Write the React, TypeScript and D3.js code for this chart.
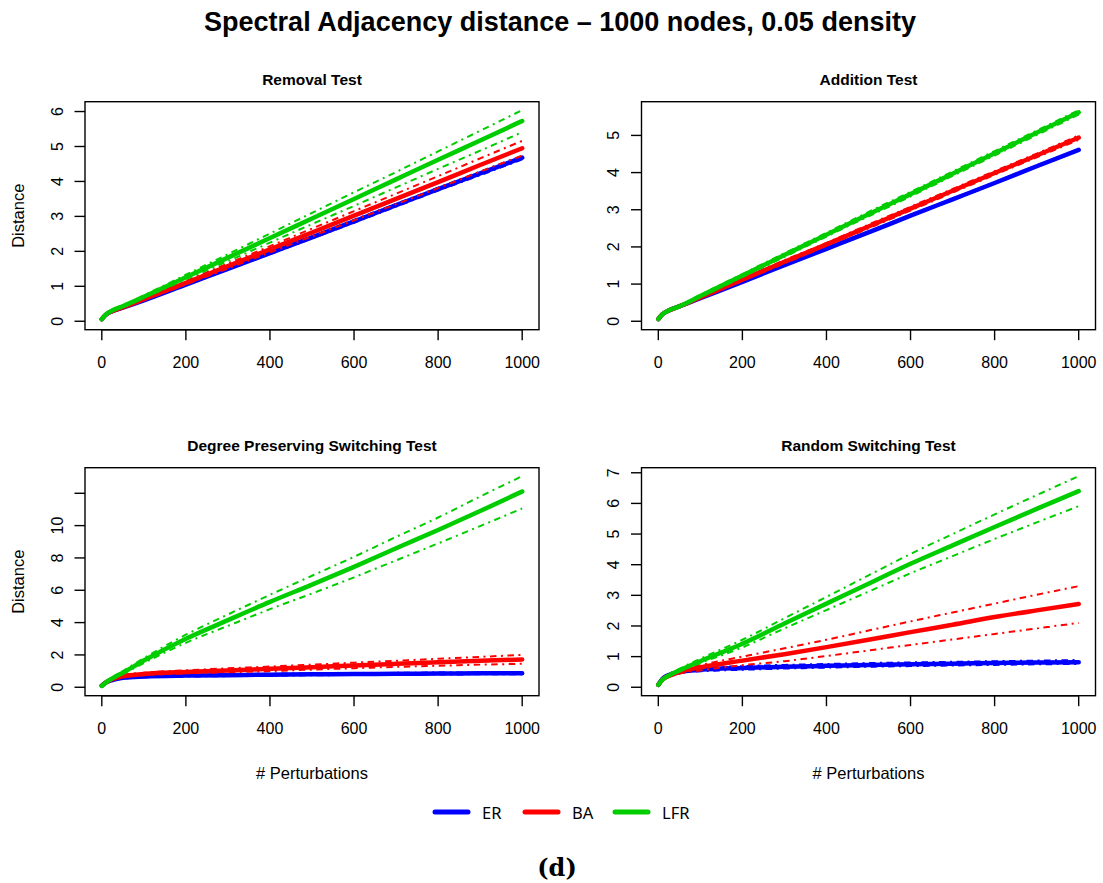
import React from 'react';
import * as d3 from 'd3';

// Number of perturbations at which the distance was sampled
const perturbations = [0, 10, 25, 50, 100, 200, 300, 400, 500, 600, 700, 800, 900, 1000];
const xTicks = [0, 200, 400, 600, 800, 1000];

const models = ['ER', 'BA', 'LFR'];
const modelColors = ['#0000FF', '#FF0000', '#00CD00'];

// Removal test
const removalER = [0.06, 0.19, 0.29, 0.39, 0.6, 1.05, 1.5, 1.95, 2.4, 2.86, 3.32, 3.78, 4.23, 4.68];
const removalERHi = [0.06, 0.19, 0.29, 0.4, 0.61, 1.07, 1.52, 1.98, 2.43, 2.9, 3.36, 3.82, 4.28, 4.73];
const removalERLo = [0.06, 0.19, 0.28, 0.38, 0.59, 1.03, 1.48, 1.92, 2.37, 2.82, 3.28, 3.74, 4.18, 4.63];
const removalBA = [0.06, 0.19, 0.29, 0.4, 0.63, 1.1, 1.58, 2.06, 2.54, 3.02, 3.5, 3.98, 4.47, 4.95];
const removalBAHi = [0.06, 0.2, 0.3, 0.42, 0.66, 1.15, 1.65, 2.15, 2.65, 3.15, 3.65, 4.15, 4.66, 5.16];
const removalBALo = [0.06, 0.18, 0.28, 0.38, 0.6, 1.05, 1.51, 1.97, 2.43, 2.89, 3.35, 3.81, 4.28, 4.74];
const removalLFR = [0.06, 0.2, 0.31, 0.43, 0.7, 1.26, 1.82, 2.38, 2.94, 3.5, 4.06, 4.62, 5.17, 5.73];
const removalLFRHi = [0.06, 0.21, 0.33, 0.45, 0.74, 1.33, 1.92, 2.51, 3.1, 3.69, 4.27, 4.86, 5.45, 6.04];
const removalLFRLo = [0.06, 0.19, 0.3, 0.41, 0.67, 1.2, 1.72, 2.25, 2.78, 3.3, 3.83, 4.36, 4.88, 5.41];

// Addition test
const additionER = [0.06, 0.19, 0.29, 0.4, 0.62, 1.06, 1.51, 1.95, 2.39, 2.84, 3.28, 3.72, 4.17, 4.61];
const additionERHi = [0.06, 0.19, 0.3, 0.41, 0.63, 1.07, 1.52, 1.97, 2.41, 2.86, 3.3, 3.74, 4.19, 4.63];
const additionERLo = [0.06, 0.19, 0.28, 0.39, 0.61, 1.05, 1.5, 1.93, 2.37, 2.82, 3.26, 3.7, 4.15, 4.59];
const additionBA = [0.06, 0.19, 0.29, 0.4, 0.64, 1.12, 1.6, 2.07, 2.55, 3.03, 3.51, 3.99, 4.46, 4.94];
const additionBAHi = [0.06, 0.2, 0.3, 0.42, 0.66, 1.15, 1.64, 2.11, 2.6, 3.08, 3.56, 4.04, 4.51, 5.0];
const additionBALo = [0.06, 0.18, 0.28, 0.38, 0.62, 1.09, 1.56, 2.03, 2.5, 2.98, 3.46, 3.94, 4.41, 4.88];
const additionLFR = [0.06, 0.19, 0.29, 0.4, 0.68, 1.23, 1.78, 2.33, 2.88, 3.42, 3.97, 4.52, 5.07, 5.62];
const additionLFRHi = [0.06, 0.2, 0.3, 0.42, 0.71, 1.27, 1.83, 2.38, 2.94, 3.48, 4.03, 4.58, 5.13, 5.68];
const additionLFRLo = [0.06, 0.18, 0.28, 0.38, 0.65, 1.19, 1.73, 2.28, 2.82, 3.36, 3.91, 4.46, 5.01, 5.56];

// Degree preserving switching test
const degreeER = [0.1, 0.3, 0.45, 0.58, 0.66, 0.72, 0.75, 0.78, 0.8, 0.82, 0.83, 0.85, 0.86, 0.87];
const degreeERHi = [0.1, 0.32, 0.48, 0.62, 0.71, 0.78, 0.81, 0.84, 0.86, 0.88, 0.89, 0.91, 0.92, 0.93];
const degreeERLo = [0.1, 0.28, 0.42, 0.54, 0.61, 0.66, 0.69, 0.72, 0.74, 0.76, 0.77, 0.79, 0.8, 0.81];
const degreeBA = [0.1, 0.3, 0.5, 0.68, 0.82, 0.95, 1.04, 1.14, 1.24, 1.35, 1.45, 1.55, 1.64, 1.72];
const degreeBAHi = [0.1, 0.32, 0.55, 0.75, 0.9, 1.05, 1.17, 1.28, 1.4, 1.52, 1.64, 1.76, 1.88, 2.0];
const degreeBALo = [0.1, 0.28, 0.45, 0.62, 0.74, 0.86, 0.93, 1.0, 1.09, 1.18, 1.26, 1.33, 1.4, 1.45];
const degreeLFR = [0.08, 0.3, 0.55, 0.9, 1.65, 3.0, 4.15, 5.28, 6.35, 7.45, 8.6, 9.73, 10.9, 12.11];
const degreeLFRHi = [0.08, 0.32, 0.6, 1.0, 1.8, 3.25, 4.5, 5.72, 6.9, 8.07, 9.3, 10.5, 11.8, 13.06];
const degreeLFRLo = [0.08, 0.28, 0.5, 0.82, 1.5, 2.75, 3.8, 4.83, 5.8, 6.8, 7.85, 8.9, 9.97, 11.06];

// Random switching test
const randomER = [0.08, 0.28, 0.4, 0.5, 0.57, 0.63, 0.67, 0.7, 0.73, 0.75, 0.77, 0.79, 0.81, 0.82];
const randomERHi = [0.08, 0.3, 0.43, 0.54, 0.62, 0.69, 0.73, 0.76, 0.79, 0.81, 0.83, 0.85, 0.87, 0.89];
const randomERLo = [0.08, 0.26, 0.37, 0.46, 0.52, 0.57, 0.61, 0.64, 0.67, 0.69, 0.71, 0.73, 0.75, 0.76];
const randomBA = [0.08, 0.25, 0.37, 0.5, 0.65, 0.87, 1.08, 1.31, 1.55, 1.8, 2.04, 2.29, 2.51, 2.72];
const randomBAHi = [0.08, 0.26, 0.4, 0.55, 0.72, 1.0, 1.27, 1.55, 1.85, 2.15, 2.44, 2.73, 3.02, 3.3];
const randomBALo = [0.08, 0.24, 0.34, 0.44, 0.55, 0.72, 0.85, 1.02, 1.2, 1.38, 1.56, 1.74, 1.92, 2.1];
const randomLFR = [0.08, 0.25, 0.38, 0.55, 0.85, 1.42, 2.08, 2.73, 3.38, 4.03, 4.63, 5.23, 5.82, 6.4];
const randomLFRHi = [0.08, 0.26, 0.41, 0.6, 0.93, 1.55, 2.25, 2.95, 3.65, 4.35, 5.0, 5.64, 6.27, 6.89];
const randomLFRLo = [0.08, 0.24, 0.36, 0.51, 0.79, 1.3, 1.92, 2.52, 3.12, 3.72, 4.28, 4.84, 5.38, 5.91];

type Series = { mean: number[]; lo: number[]; hi: number[] };
type PanelSpec = {
  title: string;
  yTicks: number[];
  yLabelled: number[];
  series: Series[];
  col: number;
  row: number;
};

const panels: PanelSpec[] = [
  {
    title: 'Removal Test',
    yTicks: [0, 1, 2, 3, 4, 5, 6],
    yLabelled: [0, 1, 2, 3, 4, 5, 6],
    series: [
      { mean: removalER, lo: removalERLo, hi: removalERHi },
      { mean: removalBA, lo: removalBALo, hi: removalBAHi },
      { mean: removalLFR, lo: removalLFRLo, hi: removalLFRHi },
    ],
    col: 0,
    row: 0,
  },
  {
    title: 'Addition Test',
    yTicks: [0, 1, 2, 3, 4, 5],
    yLabelled: [0, 1, 2, 3, 4, 5],
    series: [
      { mean: additionER, lo: additionERLo, hi: additionERHi },
      { mean: additionBA, lo: additionBALo, hi: additionBAHi },
      { mean: additionLFR, lo: additionLFRLo, hi: additionLFRHi },
    ],
    col: 1,
    row: 0,
  },
  {
    title: 'Degree Preserving Switching Test',
    yTicks: [0, 2, 4, 6, 8, 10, 12],
    yLabelled: [0, 2, 4, 6, 8, 10],
    series: [
      { mean: degreeER, lo: degreeERLo, hi: degreeERHi },
      { mean: degreeBA, lo: degreeBALo, hi: degreeBAHi },
      { mean: degreeLFR, lo: degreeLFRLo, hi: degreeLFRHi },
    ],
    col: 0,
    row: 1,
  },
  {
    title: 'Random Switching Test',
    yTicks: [0, 1, 2, 3, 4, 5, 6, 7],
    yLabelled: [0, 1, 2, 3, 4, 5, 6, 7],
    series: [
      { mean: randomER, lo: randomERLo, hi: randomERHi },
      { mean: randomBA, lo: randomBALo, hi: randomBAHi },
      { mean: randomLFR, lo: randomLFRLo, hi: randomLFRHi },
    ],
    col: 1,
    row: 1,
  },
];

const W = 1103;
const H = 883;
const colLeft = [85, 641.5];
const rowTop = [101.7, 467.7];
const plotW = 454;
const plotH = 228;
const sans = '"Liberation Sans", Arial, Helvetica, sans-serif';

function Panel({ p }: { p: PanelSpec }) {
  const left = colLeft[p.col];
  const top = rowTop[p.row];
  const bottom = top + plotH;
  const right = left + plotW;

  const x = d3.scaleLinear().domain([-40, 1040]).range([left, right]);
  const values = p.series.flatMap((s) => [...s.mean, ...s.lo, ...s.hi]);
  const yMax = d3.max(values) as number;
  const yMin = 0;
  const pad = (yMax - yMin) * 0.04;
  const y = d3.scaleLinear().domain([yMin - pad, yMax + pad]).range([bottom, top]);

  const line = d3
    .line<number>()
    .x((_, i) => x(perturbations[i]))
    .y((d) => y(d))
    .curve(d3.curveMonotoneX);

  const cx = (left + right) / 2;
  const cy = (top + bottom) / 2;

  return (
    <g>
      <text
        x={cx}
        y={top - 22}
        textAnchor="middle"
        dominantBaseline="central"
        fontFamily={sans}
        fontWeight="bold"
        fontSize={15.5}
      >
        {p.title}
      </text>

      {p.series.map((s, k) => (
        <g key={k} stroke={modelColors[k]} fill="none">
          <path d={line(s.hi) || ''} strokeWidth={2} strokeDasharray="2 4.5 6.5 4.5" />
          <path d={line(s.lo) || ''} strokeWidth={2} strokeDasharray="2 4.5 6.5 4.5" />
          <path d={line(s.mean) || ''} strokeWidth={4.5} strokeLinecap="round" strokeLinejoin="round" />
        </g>
      ))}

      <rect x={left} y={top} width={plotW} height={plotH} fill="none" stroke="#000" strokeWidth={1.4} />

      {/* x axis */}
      <line x1={x(xTicks[0])} x2={x(xTicks[xTicks.length - 1])} y1={bottom} y2={bottom} stroke="#000" strokeWidth={1.4} />
      {xTicks.map((t) => (
        <g key={t}>
          <line x1={x(t)} x2={x(t)} y1={bottom} y2={bottom + 10.5} stroke="#000" strokeWidth={1.4} />
          <text
            x={x(t)}
            y={bottom + 33}
            textAnchor="middle"
            dominantBaseline="central"
            fontFamily={sans}
            fontSize={16}
          >
            {t}
          </text>
        </g>
      ))}

      {/* y axis */}
      {p.yTicks.map((t) => (
        <g key={t}>
          <line x1={left - 10.5} x2={left} y1={y(t)} y2={y(t)} stroke="#000" strokeWidth={1.4} />
          {p.yLabelled.includes(t) && (
            <text
              transform={`translate(${left - 28},${y(t)}) rotate(-90)`}
              textAnchor="middle"
              dominantBaseline="central"
              fontFamily={sans}
              fontSize={16}
            >
              {t}
            </text>
          )}
        </g>
      ))}

      {p.col === 0 && (
        <text
          transform={`translate(18,${cy}) rotate(-90)`}
          textAnchor="middle"
          dominantBaseline="central"
          fontFamily={sans}
          fontSize={16.5}
        >
          Distance
        </text>
      )}
      {p.row === 1 && (
        <text x={cx} y={773} textAnchor="middle" dominantBaseline="central" fontFamily={sans} fontSize={16.5}>
          # Perturbations
        </text>
      )}
    </g>
  );
}

export default function App() {
  const legendX = d3.scaleOrdinal<string, number>().domain(models).range([435, 525, 615]);
  return (
    <svg
      width={W}
      height={H}
      viewBox={`0 0 ${W} ${H}`}
      style={{ position: 'absolute', left: 0, top: 0, background: '#fff' }}
    >
      <rect width={W} height={H} fill="#fff" />
      <text
        x={560}
        y={22}
        textAnchor="middle"
        dominantBaseline="central"
        fontFamily={sans}
        fontWeight="bold"
        fontSize={27}
      >
        Spectral Adjacency distance – 1000 nodes, 0.05 density
      </text>

      {panels.map((p, i) => (
        <Panel key={i} p={p} />
      ))}

      {models.map((m, k) => (
        <g key={m}>
          <line
            x1={legendX(m)}
            x2={legendX(m) + 33}
            y1={812}
            y2={812}
            stroke={modelColors[k]}
            strokeWidth={5}
            strokeLinecap="round"
          />
          <text
            x={legendX(m) + 47}
            y={812}
            dominantBaseline="central"
            fontFamily='"Noto Sans", sans-serif'
            fontSize={16.5}
          >
            {m}
          </text>
        </g>
      ))}

      <text
        x={557}
        y={867}
        textAnchor="middle"
        dominantBaseline="central"
        fontFamily='"DejaVu Serif", "Liberation Serif", serif'
        fontWeight="bold"
        fontSize={24}
      >
        (d)
      </text>
    </svg>
  );
}
